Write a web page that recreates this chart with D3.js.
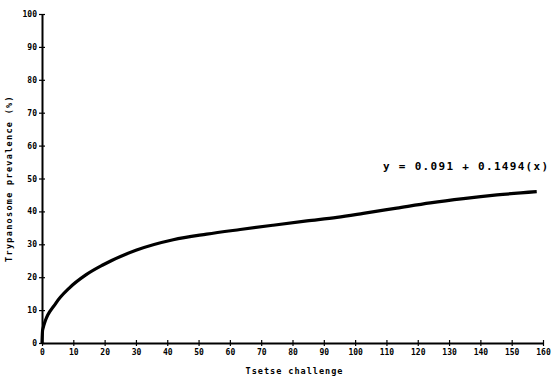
<!DOCTYPE html>
<html>
<head>
<meta charset="utf-8">
<script src="https://cdn.jsdelivr.net/npm/d3@7"></script>
<style>
  body { margin: 0; background: #fff; }
  text { font-family: "DejaVu Sans Mono", monospace; fill: #000; }
</style>
</head>
<body>
<script>
'use strict';

const challenge  = [0, 0.2, 4.5, 8.7, 14, 19.4, 30, 41.9, 52.6, 63.3, 73.8, 84.6, 94.2, 102.6, 113.3, 124, 134.6, 145.3, 158];
const prevalence = [0, 4, 12.2, 16.7, 20.7, 23.7, 28.2, 31.4, 33.1, 34.5, 35.8, 37.1, 38.2, 39.4, 41.0, 42.6, 43.9, 45, 46];

const xTicks = d3.range(0, 161, 10);
const yTicks = d3.range(0, 101, 10);

const equation = 'y = 0.091 + 0.1494(x)';
const xTitle   = 'Tsetse challenge';
const yTitle   = 'Trypanosome prevalence (%)';

const width  = 555;
const height = 383;

const x = d3.scaleLinear().domain([0, 160]).range([42, 543]);
const y = d3.scaleLinear().domain([0, 100]).range([343, 14]);

const svg = d3.select('body')
  .append('svg')
  .attr('width', width)
  .attr('height', height);

// axes
const xAxis = svg.append('g').attr('transform', 'translate(0,' + y(0) + ')')
  .call(d3.axisBottom(x).tickValues(xTicks).tickSize(0).tickPadding(6));
const yAxis = svg.append('g').attr('transform', 'translate(' + x(0) + ',0)')
  .call(d3.axisLeft(y).tickValues(yTicks).tickSize(0).tickPadding(5));

[xAxis, yAxis].forEach((g) => {
  g.select('.domain').attr('stroke', '#000').attr('stroke-width', 2);
  g.selectAll('text')
    .attr('font-size', 8)
    .attr('font-weight', 'bold')
    .attr('font-family', '"DejaVu Sans Mono", monospace');
});

// cross-style ticks
xAxis.selectAll('.tick').append('line')
  .attr('y1', -3).attr('y2', 3)
  .attr('stroke', '#000').attr('stroke-width', 1.2);
yAxis.selectAll('.tick').append('line')
  .attr('x1', -3).attr('x2', 3)
  .attr('stroke', '#000').attr('stroke-width', 1.2);

// curve
const line = d3.line()
  .x((d, i) => x(challenge[i]))
  .y((d) => y(d))
  .curve(d3.curveMonotoneX);

svg.append('path')
  .datum(prevalence)
  .attr('d', line)
  .attr('fill', 'none')
  .attr('stroke', '#000')
  .attr('stroke-width', 3.2);

// texts
svg.append('text')
  .attr('x', 383).attr('y', 170)
  .attr('font-size', 11)
  .attr('font-weight', 'bold')
  .attr('letter-spacing', 1.3)
  .text(equation);

svg.append('text')
  .attr('x', (x(0) + x(160)) / 2 + 2).attr('y', 374)
  .attr('text-anchor', 'middle')
  .attr('font-size', 8.5)
  .attr('font-weight', 'bold')
  .attr('letter-spacing', 1)
  .text(xTitle);

svg.append('text')
  .attr('transform', 'translate(12,' + y(50) + ') rotate(-90)')
  .attr('text-anchor', 'middle')
  .attr('font-size', 8.5)
  .attr('font-weight', 'bold')
  .attr('letter-spacing', 1.3)
  .text(yTitle);
</script>
</body>
</html>
